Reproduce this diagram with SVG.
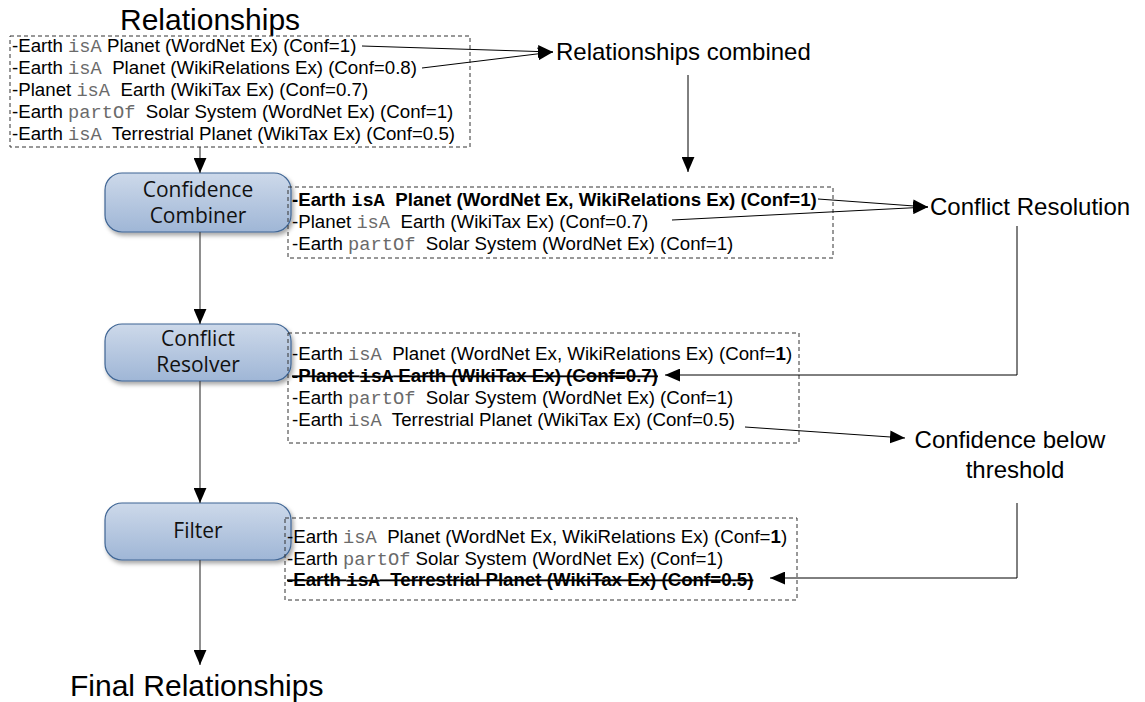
<svg xmlns="http://www.w3.org/2000/svg" width="1145" height="702" viewBox="0 0 1145 702">
  <defs>
    <linearGradient id="nodeFill" x1="0" y1="0" x2="0" y2="1">
      <stop offset="0" stop-color="#cdd9ea"/>
      <stop offset="1" stop-color="#9fb6d6"/>
    </linearGradient>
    <filter id="shadow" x="-10%" y="-20%" width="130%" height="150%">
      <feDropShadow dx="2" dy="3" stdDeviation="2" flood-color="#000" flood-opacity="0.35"/>
    </filter>
    <marker id="arrow" viewBox="0 0 14 12" refX="14" refY="6" markerWidth="15" markerHeight="13" markerUnits="userSpaceOnUse" orient="auto">
      <path d="M0,0 L14,6 L0,12 z" fill="#000"/>
    </marker>
  </defs>
  <style>
    .box { fill: none; stroke: #333; stroke-width: 1; stroke-dasharray: 4 3; }
    .node { fill: url(#nodeFill); stroke: #3f6594; stroke-width: 1.2; filter: url(#shadow); }
    .ntext { font-family: "Open Sans", "Noto Sans", sans-serif; font-size: 21px; fill: #111; text-anchor: middle; }
    .big { font-family: "Liberation Sans", Arial, sans-serif; font-size: 30px; fill: #000; }
    .mid { font-family: "Liberation Sans", Arial, sans-serif; font-size: 24px; fill: #000; }
    .ln { font-family: "Liberation Sans", Arial, sans-serif; font-size: 18.7px; fill: #000; }
    .b { font-weight: bold; }
    .strike { text-decoration: line-through; }
    .mono { font-family: "Liberation Mono", "Courier New", monospace; fill: #6a6a6a; }
    .conn { fill: none; stroke: #000; stroke-width: 1; marker-end: url(#arrow); }
    .flow { fill: none; stroke: #444; stroke-width: 1.2; marker-end: url(#arrow); }
  </style>

  <!-- Titles -->
  <text class="big" x="120" y="30">Relationships</text>
  <text class="mid" x="556" y="60">Relationships combined</text>
  <text class="mid" x="930" y="215">Conflict Resolution</text>
  <text class="mid" x="1010" y="448" text-anchor="middle">Confidence below</text>
  <text class="mid" x="1015" y="478" text-anchor="middle">threshold</text>
  <text class="big" x="70" y="696">Final Relationships</text>

  <!-- Input relationships -->
  <g id="relationships">
    <rect class="box" x="10" y="36" width="460" height="111"/>
    <text class="ln" xml:space="preserve" x="12" y="52">-Earth <tspan class="mono">isA</tspan> Planet (WordNet Ex) (Conf=1)</text>
    <text class="ln" xml:space="preserve" x="12" y="74">-Earth <tspan class="mono">isA</tspan>  Planet (WikiRelations Ex) (Conf=0.8)</text>
    <text class="ln" xml:space="preserve" x="12" y="96">-Planet <tspan class="mono">isA</tspan>  Earth (WikiTax Ex) (Conf=0.7)</text>
    <text class="ln" xml:space="preserve" x="12" y="118">-Earth <tspan class="mono">partOf</tspan>  Solar System (WordNet Ex) (Conf=1)</text>
    <text class="ln" xml:space="preserve" x="12" y="140">-Earth <tspan class="mono">isA</tspan>  Terrestrial Planet (WikiTax Ex) (Conf=0.5)</text>
  </g>

  <!-- Processing nodes -->
  <g id="confidence-combiner">
    <rect class="node" x="105" y="173" width="186" height="59" rx="17"/>
    <text class="ntext" x="198" y="197">Confidence</text>
    <text class="ntext" x="198" y="223">Combiner</text>
  </g>
  <g id="conflict-resolver">
    <rect class="node" x="105" y="324" width="186" height="57" rx="17"/>
    <text class="ntext" x="198" y="346">Conflict</text>
    <text class="ntext" x="198" y="372">Resolver</text>
  </g>
  <g id="filter">
    <rect class="node" x="105" y="503" width="186" height="57" rx="17"/>
    <text class="ntext" x="198" y="538">Filter</text>
  </g>

  <!-- Combined relationships -->
  <g id="combined">
    <rect class="box" x="288" y="187" width="545" height="71"/>
    <text class="ln b" xml:space="preserve" x="292" y="206">-Earth <tspan class="mono" style="fill:#000">isA</tspan>  Planet (WordNet Ex, WikiRelations Ex) (Conf=1)</text>
    <text class="ln" xml:space="preserve" x="292" y="228">-Planet <tspan class="mono">isA</tspan>  Earth (WikiTax Ex) (Conf=0.7)</text>
    <text class="ln" xml:space="preserve" x="292" y="250">-Earth <tspan class="mono">partOf</tspan>  Solar System (WordNet Ex) (Conf=1)</text>
  </g>

  <!-- Resolved relationships -->
  <g id="resolved">
    <rect class="box" x="288" y="333" width="511" height="110"/>
    <text class="ln" xml:space="preserve" x="292" y="360">-Earth <tspan class="mono">isA</tspan>  Planet (WordNet Ex, WikiRelations Ex) (Conf=<tspan class="b">1</tspan>)</text>
    <text class="ln b strike" xml:space="preserve" x="292" y="382">-Planet <tspan class="mono" style="fill:#000">isA</tspan> Earth (WikiTax Ex) (Conf=0.7)</text>
    <text class="ln" xml:space="preserve" x="292" y="404">-Earth <tspan class="mono">partOf</tspan>  Solar System (WordNet Ex) (Conf=1)</text>
    <text class="ln" xml:space="preserve" x="292" y="426">-Earth <tspan class="mono">isA</tspan>  Terrestrial Planet (WikiTax Ex) (Conf=0.5)</text>
  </g>

  <!-- Filtered relationships -->
  <g id="filtered">
    <rect class="box" x="285" y="518" width="512" height="82"/>
    <text class="ln" xml:space="preserve" x="287" y="543">-Earth <tspan class="mono">isA</tspan>  Planet (WordNet Ex, WikiRelations Ex) (Conf=<tspan class="b">1</tspan>)</text>
    <text class="ln" xml:space="preserve" x="287" y="565">-Earth <tspan class="mono">partOf</tspan> Solar System (WordNet Ex) (Conf=1)</text>
    <text class="ln b strike" xml:space="preserve" x="287" y="586">-Earth <tspan class="mono" style="fill:#000">isA</tspan>  Terrestrial Planet (WikiTax Ex) (Conf=0.5)</text>
  </g>

  <!-- Connectors -->
  <g id="connectors">
    <path class="conn" d="M362,46 L553,52"/>
    <path class="conn" d="M422,68 L553,52"/>
    <path class="conn" d="M688,75 L688,172"/>
    <path class="conn" d="M818,199 L928,207"/>
    <path class="conn" d="M672,220 L928,207"/>
    <path class="conn" d="M1017,226 L1017,375 L665,375"/>
    <path class="conn" d="M745,427 L905,438"/>
    <path class="conn" d="M1017,503 L1017,578 L770,578"/>
    <path class="flow" d="M200,147 L200,173"/>
    <path class="flow" d="M200,232 L200,324"/>
    <path class="flow" d="M200,381 L200,503"/>
    <path class="flow" d="M200,560 L200,665"/>
  </g>
</svg>
